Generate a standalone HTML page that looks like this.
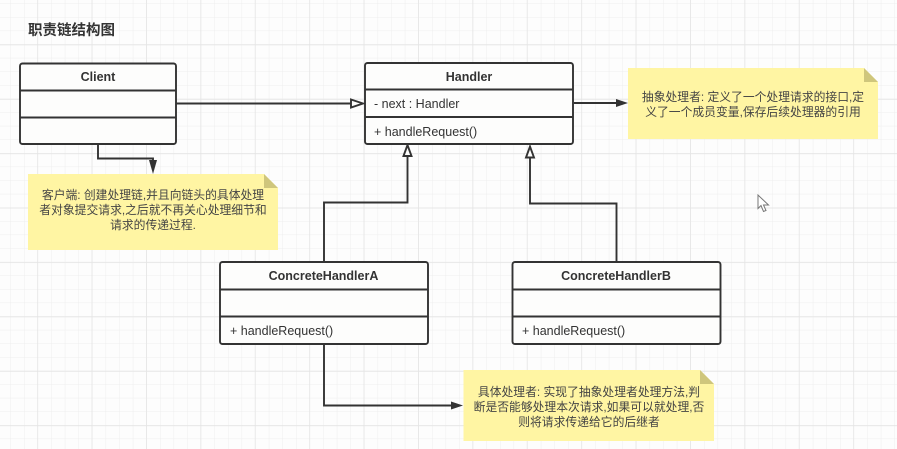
<!DOCTYPE html>
<html><head><meta charset="utf-8"><style>
html,body{margin:0;padding:0;background:#fdfdfd}
svg{display:block}
text{font-family:"Liberation Sans","Noto Sans CJK SC",sans-serif;fill:#333}
.b{font-weight:bold;font-size:12.5px;text-anchor:middle}
.m{font-size:12.5px}
.n{font-size:11.8px;text-anchor:middle;fill:#444}
.box{fill:#fdfdfc;stroke:#333;stroke-width:1.9}
.l{stroke:#333;stroke-width:1.9;fill:none}
</style></head><body>
<svg xmlns="http://www.w3.org/2000/svg" width="897" height="449" viewBox="0 0 897 449">
<defs>
<pattern id="g" x="10.4" y="3.4" width="13.6" height="13.6" patternUnits="userSpaceOnUse"><path d="M0 0V13.6M0 0H13.6" stroke="#eeeeee" stroke-width="1" fill="none"/></pattern>
<pattern id="G" x="37.2" y="44.5" width="54.4" height="54.4" patternUnits="userSpaceOnUse"><path d="M0 0V54.4M0 0H54.4" stroke="#e4e4e4" stroke-width="1.4" fill="none"/></pattern>
</defs>
<rect width="897" height="449" fill="#fdfdfd"/>
<rect width="897" height="449" fill="url(#g)"/>
<rect width="897" height="449" fill="url(#G)"/>

<text x="28" y="35" style="font-size:14.5px;font-weight:bold;fill:#333">职责链结构图</text>

<!-- connectors -->
<path class="l" d="M176 103.5H352"/>
<path d="M351 99.5L363 103.5L351 107.5Z" fill="#fdfdfc" stroke="#333" stroke-width="1.9"/>
<path class="l" d="M98 144V158.5H153V163"/>
<path d="M149 160H157L153 174Z" fill="#333"/>
<path class="l" d="M574 103H618"/>
<path d="M616 99L628 103L616 107Z" fill="#333"/>
<path class="l" d="M324 262V202.500H407.500V156"/>
<path d="M403.500 156L407.500 145L411.500 156Z" fill="#fdfdfc" stroke="#333" stroke-width="1.9"/>
<path class="l" d="M616.500 262V203.500H530V157"/>
<path d="M526 157.500L530 146.500L534 157.500Z" fill="#fdfdfc" stroke="#333" stroke-width="1.9"/>
<path class="l" d="M324 344V405.500H453"/>
<path d="M451 401.500L463 405.500L451 409.500Z" fill="#333"/>

<!-- Client -->
<rect class="box" x="20" y="63.500" width="156" height="80.500" rx="2.500"/>
<path class="l" d="M20 90.500H176M20 117.500H176"/>
<text class="b" x="98" y="81">Client</text>

<!-- Handler -->
<rect class="box" x="365" y="63" width="208" height="81" rx="2.500"/>
<path class="l" d="M365 89.500H573M365 117H573"/>
<text class="b" x="469" y="81">Handler</text>
<text class="m" x="374" y="108">- next : Handler</text>
<text class="m" x="374" y="136">+ handleRequest()</text>

<!-- ConcreteHandlerA -->
<rect class="box" x="220" y="262" width="208" height="82" rx="2.500"/>
<path class="l" d="M220 289.500H428M220 316.500H428"/>
<text class="b" x="323.500" y="280">ConcreteHandlerA</text>
<text class="m" x="230" y="335">+ handleRequest()</text>

<!-- ConcreteHandlerB -->
<rect class="box" x="512.500" y="262" width="208" height="82" rx="2.500"/>
<path class="l" d="M512.500 289.500H720.500M512.500 316.500H720.500"/>
<text class="b" x="616" y="280">ConcreteHandlerB</text>
<text class="m" x="522" y="335">+ handleRequest()</text>

<!-- Note: client -->
<path d="M28 174H264L278 188V250H28Z" fill="#fff5a3"/>
<path d="M264 174L278 188H264Z" fill="#cfc67c"/>
<text class="n" x="153" y="199">客户端: 创建处理链,并且向链头的具体处理</text>
<text class="n" x="153" y="214">者对象提交请求,之后就不再关心处理细节和</text>
<text class="n" x="153" y="229">请求的传递过程.</text>

<!-- Note: handler -->
<path d="M628 68H864L878 82V139H628Z" fill="#fff5a3"/>
<path d="M864 68L878 82H864Z" fill="#cfc67c"/>
<text class="n" x="753" y="101">抽象处理者: 定义了一个处理请求的接口,定</text>
<text class="n" x="753" y="116">义了一个成员变量,保存后续处理器的引用</text>

<!-- Note: concrete -->
<path d="M463.500 370H700L714 384V441H463.500Z" fill="#fff5a3"/>
<path d="M700 370L714 384H700Z" fill="#cfc67c"/>
<text class="n" x="589" y="396">具体处理者: 实现了抽象处理者处理方法,判</text>
<text class="n" x="589" y="411">断是否能够处理本次请求,如果可以就处理,否</text>
<text class="n" x="589" y="426">则将请求传递给它的后继者</text>

<!-- cursor -->
<path d="M758 195V208.500L761 205.500L763.500 211.500L766 210.500L763.500 205H768.500Z" fill="#fff" stroke="#777" stroke-width="1"/>
</svg>
</body></html>
